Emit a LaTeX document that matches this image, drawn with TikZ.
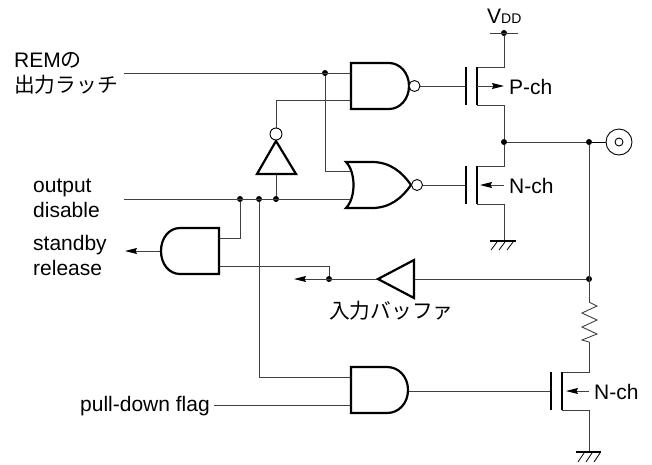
\documentclass[tikz,border=0pt]{standalone}
\usepackage{fontspec}
\setmainfont{Liberation Sans}
\newfontfamily\cjk{Noto Sans CJK JP}
\usetikzlibrary{arrows.meta}
\begin{document}
\begin{tikzpicture}[x=1pt,y=-1pt,
  wire/.style={line width=1pt,draw=black!75},
  gatebody/.style={line width=2.2pt,draw=black,fill=white,line join=miter},
  bubble/.style={line width=0.9pt,draw=black,fill=white},
  bar/.style={line width=2pt,draw=black},
  junction/.style={circle,fill=black,inner sep=0pt,minimum size=6pt},
  sig/.style={wire,-{Stealth[length=12pt,width=6pt,inset=1.5pt,color=black]}},
  lbl/.style={font=\fontsize{21}{24}\selectfont,inner sep=0pt,anchor=base west},
  cjklbl/.style={font=\fontsize{20.7}{24}\selectfont\cjk,inner sep=0pt,anchor=base west}]
\useasboundingbox (0,0) rectangle (652,464);

% junctions
\node[junction] (jvdd) at (504,33) {};
\node[junction] (jmid) at (504,142) {};
\node[junction] (jout) at (589,142) {};
\node[junction] (jrem) at (325,73) {};
\node[junction] (jd1) at (240,199) {};
\node[junction] (jd2) at (259,199) {};
\node[junction] (jd3) at (276,199) {};
\node[junction] (jbuf) at (589,279) {};
\node[junction] (jin) at (329,279) {};

% free ends and terminals
\coordinate (remstart) at (124,73);
\coordinate (disstart) at (124,199);
\coordinate (pdstart) at (214,405);
\coordinate (nandA) at (351,73);
\coordinate (nandB) at (351,100);
\coordinate (nand) at (409,86);
\coordinate (norA) at (350,171);
\coordinate (norB) at (351,199);
\coordinate (andA) at (351,377);
\coordinate (andB) at (351,405);
\coordinate (andO) at (408,391);
\coordinate (sbA) at (219,238);
\coordinate (sbB) at (219,266);
\coordinate (sbO) at (161,251);
\coordinate (sbT) at (125,251);
\coordinate (inT) at (294,279);
\coordinate (bufI) at (414,279);
\coordinate (bufO) at (378,279);
\coordinate (invI) at (276,174);
\coordinate (invO) at (276,128);
\coordinate (gp) at (466,86);
\coordinate (gn) at (466,185);
\coordinate (gb) at (551,391);
\coordinate (g1) at (504,240);
\coordinate (g2) at (589,452);
\coordinate (rtop) at (589,302);
\coordinate (rbot) at (589,342);

% wires
\draw[wire] (remstart) -- (nandA);
\draw[wire] (jrem) |- (norA);
\draw[wire] (invO) |- (nandB);
\draw[wire] (disstart) -- (norB);
\draw[wire] (invI) -- (jd3);
\draw[wire] (jd1) |- (sbA);
\draw[wire] (jd2) |- (andA);
\draw[wire] (pdstart) -- (andB);
\draw[wire] (jin) |- (sbB);
\draw[sig] (bufO) -- (inT);
\draw[sig] (sbO) -- (sbT);
\draw[wire] (bufI) -- (jbuf);
\draw[wire] (jmid) -- (jout);
\draw[wire] (jout) -- (rtop);
\draw[wire] (andO) -- (gb);
\draw[wire] (nand) -- (gp);
\draw[wire] (411,185) -- (gn);

% rail
\draw[wire] (490,33) -- (518,33);

% P-ch
\draw[wire] (jvdd) |- (477,67);
\draw[wire] (jmid) |- (477,105);
\draw[bar] (466,67) -- (466,105);
\draw[bar] (477,67) -- (477,105);
\draw[sig] (477,86) -- (504,86);
% N-ch
\draw[wire] (jmid) |- (477,166);
\draw[wire] (g1) |- (477,204);
\draw[bar] (466,166) -- (466,204);
\draw[bar] (477,166) -- (477,204);
\draw[sig] (504,185) -- (480,185);
% pull-down N-ch
\draw[wire] (rbot) |- (562,372);
\draw[wire] (g2) |- (562,410);
\draw[bar] (551,372) -- (551,410);
\draw[bar] (562,372) -- (562,410);
\draw[sig] (589,391) -- (566,391);

% grounds
\draw[line width=2pt] (490,241) -- (516,241);
\foreach \x in {497,505,513} \draw[line width=0.8pt] (\x,242) -- (\x-6,250);
\draw[line width=2pt] (576,452) -- (601,452);
\foreach \x in {584,592,600} \draw[line width=0.8pt] (\x,453) -- (\x-6,462);

% resistor
\draw[line width=0.9pt,draw=black!75,line join=miter] (rtop) -- (597,306) -- (582,313) -- (597,320) -- (582,327) -- (597,334) -- (582,340) -- (rbot);

% pad
\draw[line width=0.9pt] (jout) -- (606,142);
\draw[line width=0.9pt,fill=white] (619,142) circle[radius=13pt];
\draw[line width=0.9pt] (619,142) circle[radius=4pt];

% gates
\draw[gatebody] (351,63) -- (389,63) .. controls (400,63) and (409,73) .. (409,86) .. controls (409,99) and (400,109) .. (389,109) -- (351,109) -- cycle;
\draw[bubble] (414.5,86) circle[radius=5.5pt];
\draw[gatebody] (346,162) -- (372,162) .. controls (390,162) and (402,172) .. (411,185) .. controls (402,198) and (390,208) .. (372,208) -- (346,208) .. controls (356,198) and (356,172) .. (346,162) -- cycle;
\draw[bubble] (417,185) circle[radius=5.5pt];
\draw[gatebody] (351,367) -- (387,367) .. controls (399,367) and (408,377) .. (408,390) .. controls (408,403) and (399,413) .. (387,413) -- (351,413) -- cycle;
\draw[gatebody] (219,228) -- (180,228) .. controls (169,228) and (161,238) .. (161,251) .. controls (161,264) and (169,274) .. (180,274) -- (219,274) -- cycle;
\draw[gatebody] (276,141) -- (296,174) -- (257,174) -- cycle;
\draw[bubble] (276,134) circle[radius=6pt];
\draw[gatebody] (378,279) -- (414,260) -- (414,298) -- cycle;

% labels
\node[lbl] (tvdd) at (487,23) {V\fontsize{14}{16}\selectfont DD};
\node[lbl] (tp) at (509,94) {P-ch};
\node[lbl] (tn) at (509,193) {N-ch};
\node[lbl] (tn2) at (594,399) {N-ch};
\node[lbl] (trem) at (14,67) {REM{\cjk の}};
\node[cjklbl] (tlatch) at (14,92) {出力ラッチ};
\node[lbl] (tout) at (33,192) {output};
\node[lbl] (tdis) at (33,217) {disable};
\node[lbl] (tsb) at (33,250) {standby};
\node[lbl] (trel) at (33,275) {release};
\node[cjklbl] (tbuf) at (329,318) {入力バッファ};
\node[lbl] (tpd) at (80,411) {pull-down flag};
\end{tikzpicture}
\end{document}
